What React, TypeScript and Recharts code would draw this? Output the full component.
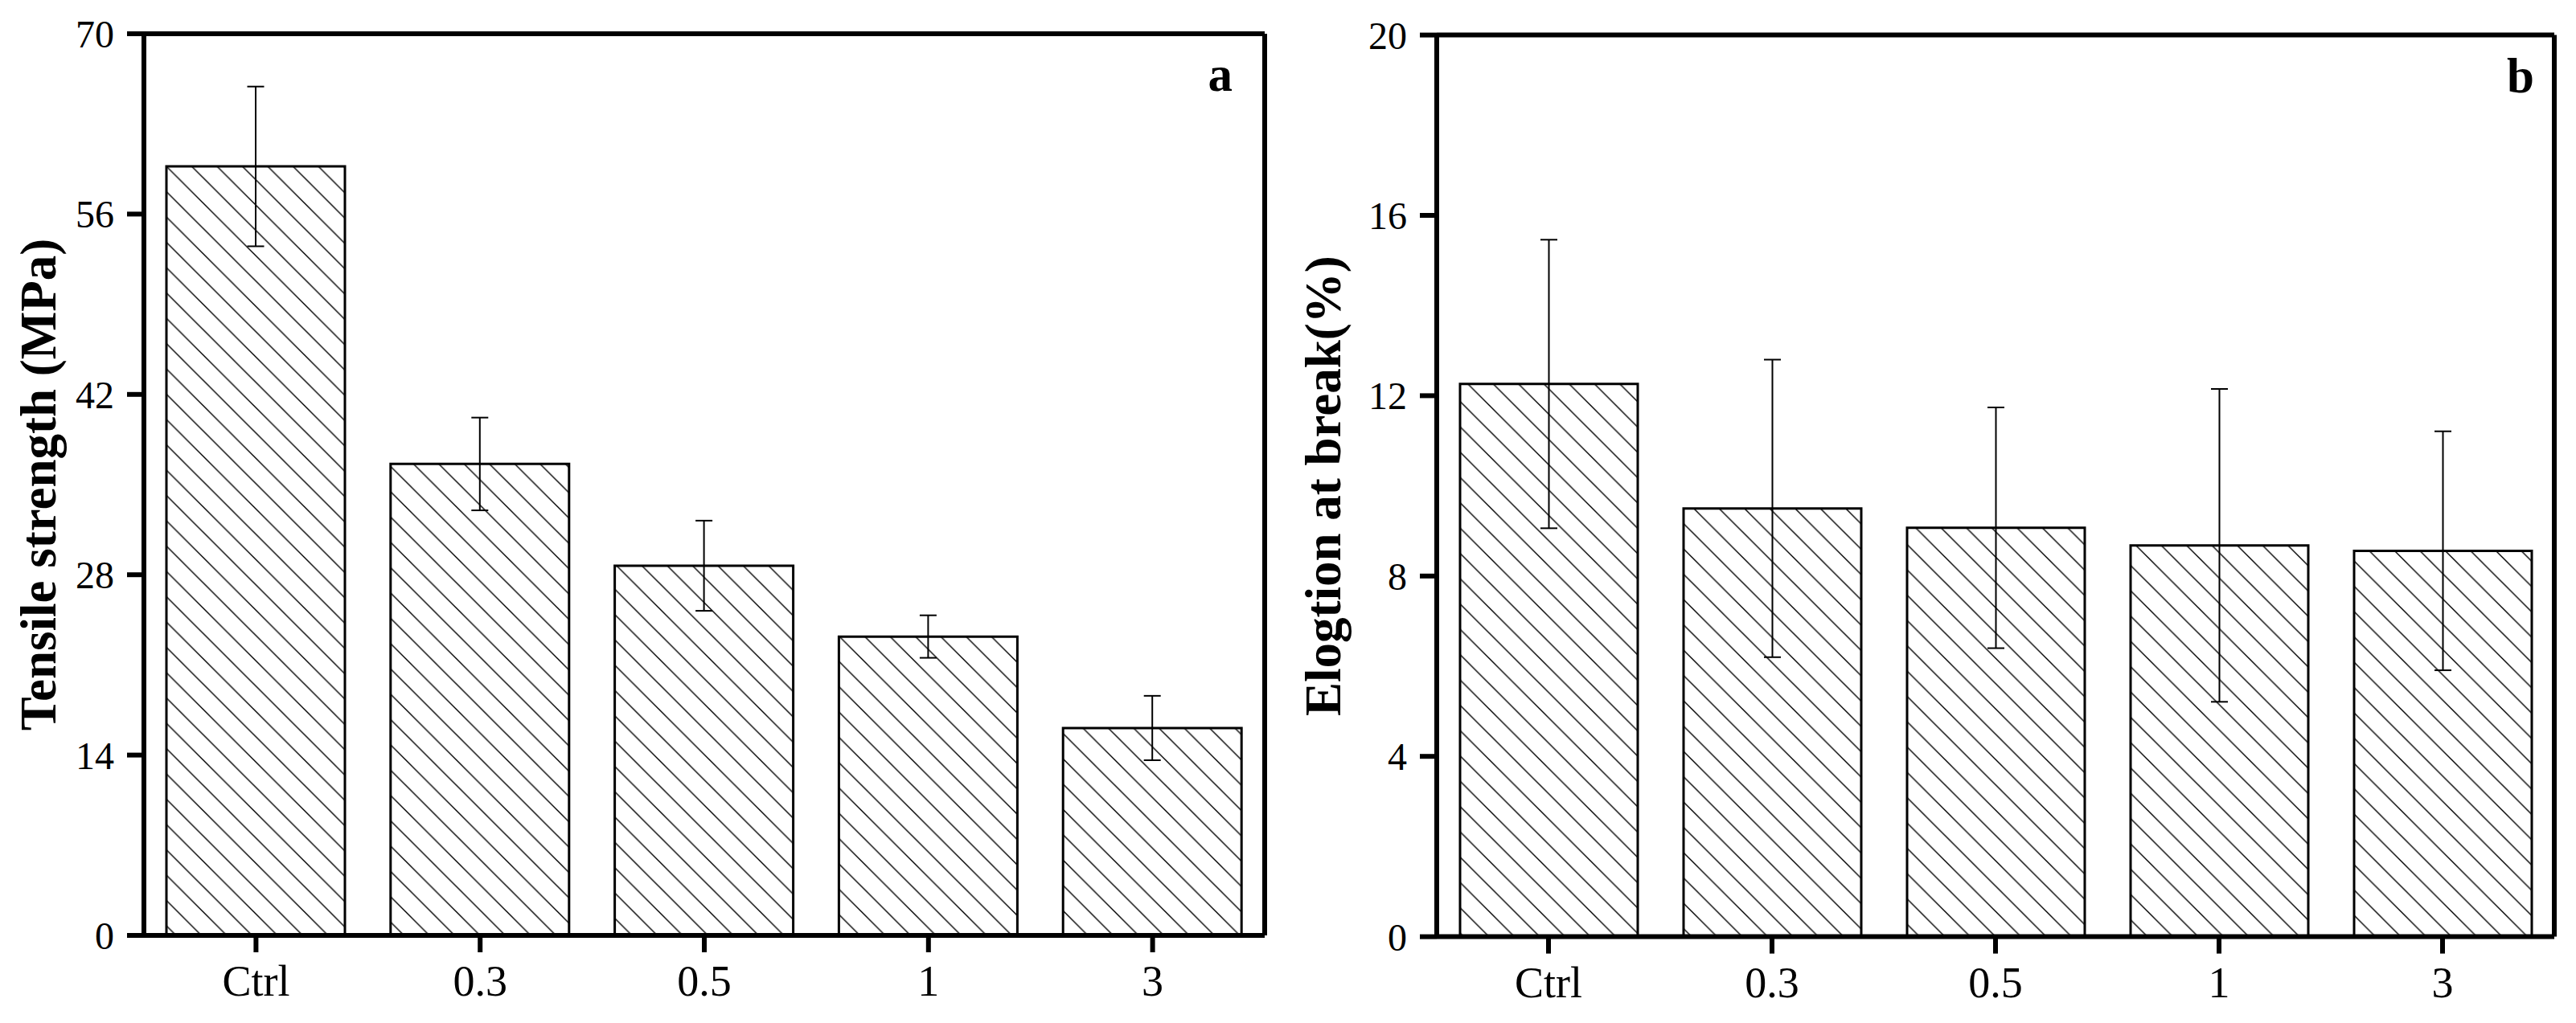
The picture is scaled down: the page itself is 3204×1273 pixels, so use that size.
import React from "react";
import { BarChart, Bar, XAxis, YAxis, ErrorBar } from "recharts";

const categories = ["Ctrl", "0.3", "0.5", "1", "3"];
const tensileStrength = [59.7, 36.6, 28.7, 23.2, 16.1];
const tensileError = [6.2, 3.6, 3.5, 1.65, 2.5];
const elongation = [12.26, 9.5, 9.07, 8.68, 8.56];
const elongationError = [3.2, 3.3, 2.67, 3.47, 2.65];
const tensileTicks = [0, 14, 28, 42, 56, 70];
const elongationTicks = [0, 4, 8, 12, 16, 20];

const FONT = '"Liberation Serif", "Times New Roman", serif';
const AXIS = { stroke: "#000", strokeWidth: 6 };

type PanelProps = {
  id: string;
  values: number[];
  errors: number[];
  ticks: number[];
  title: string;
  letter: string;
  width: number;
  margin: { top: number; right: number };
  yWidth: number;
  xHeight: number;
  barSize: number;
  titleX: number;
  letterRight: number;
  letterY: number;
};

const Panel = (p: PanelProps) => {
  const data = categories.map((name, i) => ({
    name,
    value: p.values[i],
    err: p.errors[i],
  }));
  // the frame axes take 1px each (an axis of size 0 is not drawn)
  const plotRight = p.width - p.margin.right - 1;
  const plotTop = p.margin.top + 1;
  const plotMid = plotTop + (1273 - p.xHeight - plotTop) / 2;
  return (
    <BarChart
      width={p.width}
      height={1273}
      data={data}
      margin={{ top: p.margin.top, right: p.margin.right, bottom: 0, left: 0 }}
    >
      <defs>
        <pattern
          id={`hatch-${p.id}`}
          patternUnits="userSpaceOnUse"
          width={31.5}
          height={31.5}
        >
          <rect width={31.5} height={31.5} fill="#fff" />
          <path
            d="M0,0 L31.5,31.5 M-2,29.5 L2,33.5 M29.5,-2 L33.5,2"
            stroke="#000"
            strokeWidth={1.4}
          />
        </pattern>
      </defs>
      <XAxis
        dataKey="name"
        interval={0}
        height={p.xHeight}
        tickSize={21}
        tickMargin={16}
        axisLine={AXIS}
        tickLine={AXIS}
        tick={{ fontSize: 54, fontFamily: FONT, fill: "#000" }}
      />
      <XAxis
        xAxisId="top"
        orientation="top"
        dataKey="name"
        height={1}
        tick={false}
        tickLine={false}
        axisLine={AXIS}
        label={() => (
          <text
            x={plotRight - p.letterRight}
            y={p.letterY}
            textAnchor="end"
            fontFamily={FONT}
            fontWeight="bold"
            fontSize={61}
            fill="#000"
          >
            {p.letter}
          </text>
        )}
      />
      <YAxis
        width={p.yWidth}
        domain={[p.ticks[0], p.ticks[p.ticks.length - 1]]}
        ticks={p.ticks}
        interval={0}
        tickSize={21}
        tickMargin={16}
        axisLine={AXIS}
        tickLine={AXIS}
        tick={{ fontSize: 48, fontFamily: FONT, fill: "#000" }}
        label={() => (
          <text
            x={p.titleX}
            y={plotMid}
            transform={`rotate(-90, ${p.titleX}, ${plotMid})`}
            textAnchor="middle"
            fontFamily={FONT}
            fontWeight="bold"
            fontSize={63}
            fill="#000"
          >
            {p.title}
          </text>
        )}
      />
      <YAxis
        yAxisId="right"
        orientation="right"
        width={1}
        domain={[p.ticks[0], p.ticks[p.ticks.length - 1]]}
        tick={false}
        tickLine={false}
        axisLine={AXIS}
      />
      <Bar
        dataKey="value"
        barSize={p.barSize}
        fill={`url(#hatch-${p.id})`}
        stroke="#000"
        strokeWidth={3}
        isAnimationActive={false}
      >
        <ErrorBar
          dataKey="err"
          width={10.5}
          stroke="#000"
          strokeWidth={2}
          isAnimationActive={false}
        />
      </Bar>
    </BarChart>
  );
};

export default function App() {
  return (
    <div
      style={{
        position: "absolute",
        left: 0,
        top: 0,
        width: 3204,
        height: 1273,
        background: "#fff",
        display: "flex",
      }}
    >
      <Panel
        id="a"
        values={tensileStrength}
        errors={tensileError}
        ticks={tensileTicks}
        title="Tensile strength (MPa)"
        letter="a"
        width={1600}
        margin={{ top: 41, right: 26 }}
        yWidth={179}
        xHeight={109}
        barSize={222}
        titleX={69}
        letterRight={40}
        letterY={113}
      />
      <Panel
        id="b"
        values={elongation}
        errors={elongationError}
        ticks={elongationTicks}
        title="Elogtion at break(%)"
        letter="b"
        width={1604}
        margin={{ top: 42.6, right: 26 }}
        yWidth={187}
        xHeight={107.4}
        barSize={221}
        titleX={67}
        letterRight={25}
        letterY={115}
      />
    </div>
  );
}
